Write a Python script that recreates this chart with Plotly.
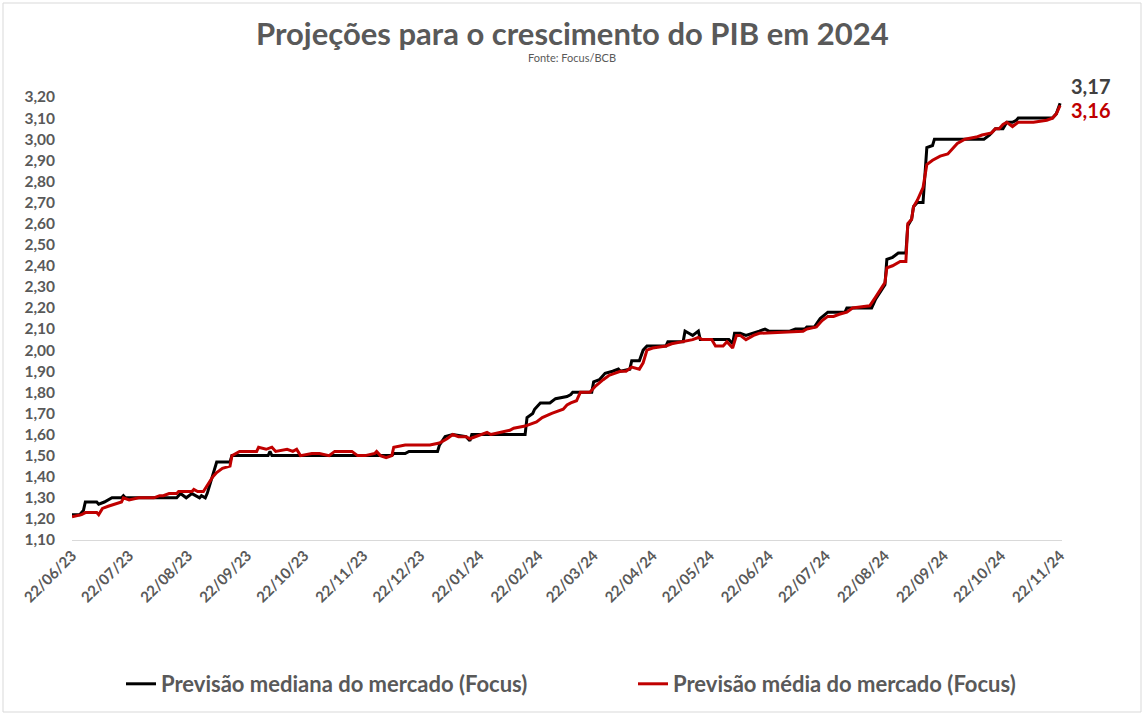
import plotly.graph_objects as go

# Previsão mediana (Focus)
median_dates = [
    "2023-06-22", "2023-06-26", "2023-06-28", "2023-06-29", "2023-07-05", "2023-07-06", "2023-07-09",
    "2023-07-13", "2023-07-18", "2023-07-19", "2023-07-20", "2023-08-16", "2023-08-18", "2023-08-21",
    "2023-08-24", "2023-08-28", "2023-08-29", "2023-08-31", "2023-09-01", "2023-09-03", "2023-09-05",
    "2023-09-06", "2023-09-13", "2023-09-14", "2023-10-03", "2023-10-04", "2023-10-05", "2023-12-07",
    "2023-12-08", "2023-12-14", "2023-12-16", "2023-12-31", "2024-01-01", "2024-01-04", "2024-01-08",
    "2024-01-15", "2024-01-17", "2024-01-18", "2024-02-15", "2024-02-16", "2024-02-19", "2024-02-20",
    "2024-02-23", "2024-02-28", "2024-03-02", "2024-03-08", "2024-03-10", "2024-03-11", "2024-03-21",
    "2024-03-22", "2024-03-25", "2024-03-28", "2024-04-01", "2024-04-04", "2024-04-05", "2024-04-10",
    "2024-04-11", "2024-04-15", "2024-04-17", "2024-04-19", "2024-04-29", "2024-04-30", "2024-05-08",
    "2024-05-09", "2024-05-11", "2024-05-13", "2024-05-16", "2024-05-17", "2024-06-01", "2024-06-03",
    "2024-06-04", "2024-06-07", "2024-06-10", "2024-06-14", "2024-06-17", "2024-06-20", "2024-06-22",
    "2024-07-03", "2024-07-06", "2024-07-11", "2024-07-12", "2024-07-16", "2024-07-19", "2024-07-23",
    "2024-08-01", "2024-08-02", "2024-08-15", "2024-08-17", "2024-08-22", "2024-08-23", "2024-08-26",
    "2024-08-29", "2024-09-02", "2024-09-03", "2024-09-05", "2024-09-06", "2024-09-08", "2024-09-11",
    "2024-09-12", "2024-09-13", "2024-09-16", "2024-09-17", "2024-10-13", "2024-10-16", "2024-10-19",
    "2024-10-23", "2024-10-25", "2024-10-28", "2024-10-30", "2024-10-31", "2024-11-18", "2024-11-20",
    "2024-11-22",
]
median_values = [
    1.22, 1.22, 1.24, 1.28, 1.28, 1.27, 1.28,
    1.30, 1.30, 1.31, 1.30, 1.30, 1.32, 1.30,
    1.32, 1.30, 1.31, 1.30, 1.32, 1.38, 1.45,
    1.47, 1.47, 1.50, 1.50, 1.52, 1.50, 1.50,
    1.51, 1.51, 1.52, 1.52, 1.55, 1.59, 1.60,
    1.59, 1.57, 1.60, 1.60, 1.68, 1.70, 1.72,
    1.75, 1.75, 1.77, 1.78, 1.79, 1.80, 1.80,
    1.85, 1.86, 1.89, 1.90, 1.91, 1.90, 1.91,
    1.95, 1.95, 2.00, 2.02, 2.02, 2.04, 2.04,
    2.09, 2.08, 2.07, 2.09, 2.05, 2.05, 2.03,
    2.08, 2.08, 2.07, 2.08, 2.09, 2.10, 2.09,
    2.09, 2.10, 2.10, 2.11, 2.11, 2.15, 2.18,
    2.18, 2.20, 2.20, 2.24, 2.31, 2.43, 2.44,
    2.46, 2.46, 2.59, 2.62, 2.68, 2.70, 2.70,
    2.86, 2.96, 2.97, 3.00, 3.00, 3.02, 3.05,
    3.05, 3.08, 3.08, 3.09, 3.10, 3.10, 3.12,
    3.17,
]

# Previsão média (Focus)
mean_dates = [
    "2023-06-22", "2023-06-27", "2023-06-29", "2023-07-05", "2023-07-06", "2023-07-08", "2023-07-11",
    "2023-07-14", "2023-07-18", "2023-07-19", "2023-07-22", "2023-07-27", "2023-08-04", "2023-08-07",
    "2023-08-09", "2023-08-12", "2023-08-16", "2023-08-17", "2023-08-24", "2023-08-25", "2023-08-27",
    "2023-08-30", "2023-09-01", "2023-09-04", "2023-09-06", "2023-09-09", "2023-09-13", "2023-09-14",
    "2023-09-18", "2023-09-27", "2023-09-28", "2023-10-02", "2023-10-05", "2023-10-07", "2023-10-13",
    "2023-10-16", "2023-10-18", "2023-10-20", "2023-10-26", "2023-10-30", "2023-11-04", "2023-11-07",
    "2023-11-16", "2023-11-19", "2023-11-23", "2023-11-28", "2023-11-29", "2023-12-01", "2023-12-04",
    "2023-12-07", "2023-12-08", "2023-12-14", "2023-12-27", "2024-01-01", "2024-01-05", "2024-01-08",
    "2024-01-11", "2024-01-15", "2024-01-17", "2024-01-20", "2024-01-26", "2024-01-28", "2024-02-02",
    "2024-02-07", "2024-02-09", "2024-02-15", "2024-02-21", "2024-02-24", "2024-02-29", "2024-03-06",
    "2024-03-08", "2024-03-10", "2024-03-13", "2024-03-15", "2024-03-20", "2024-03-23", "2024-03-27",
    "2024-03-30", "2024-04-05", "2024-04-08", "2024-04-11", "2024-04-15", "2024-04-17", "2024-04-19",
    "2024-04-22", "2024-04-29", "2024-05-02", "2024-05-08", "2024-05-13", "2024-05-16", "2024-05-18",
    "2024-05-23", "2024-05-25", "2024-05-29", "2024-05-31", "2024-06-03", "2024-06-05", "2024-06-07",
    "2024-06-10", "2024-06-14", "2024-06-17", "2024-07-10", "2024-07-12", "2024-07-17", "2024-07-20",
    "2024-07-23", "2024-07-26", "2024-07-29", "2024-08-02", "2024-08-05", "2024-08-14", "2024-08-17",
    "2024-08-20", "2024-08-22", "2024-08-23", "2024-08-26", "2024-08-30", "2024-09-02", "2024-09-03",
    "2024-09-05", "2024-09-06", "2024-09-08", "2024-09-11", "2024-09-13", "2024-09-16", "2024-09-20",
    "2024-09-24", "2024-09-26", "2024-09-29", "2024-10-03", "2024-10-09", "2024-10-12", "2024-10-17",
    "2024-10-19", "2024-10-21", "2024-10-23", "2024-10-25", "2024-10-28", "2024-10-31", "2024-11-08",
    "2024-11-15", "2024-11-18", "2024-11-20", "2024-11-22",
]
mean_values = [
    1.21, 1.22, 1.23, 1.23, 1.22, 1.25, 1.26,
    1.27, 1.28, 1.30, 1.29, 1.30, 1.30, 1.31,
    1.31, 1.32, 1.32, 1.33, 1.33, 1.34, 1.33,
    1.33, 1.36, 1.40, 1.42, 1.44, 1.45, 1.50,
    1.52, 1.52, 1.54, 1.53, 1.54, 1.52, 1.53,
    1.52, 1.53, 1.50, 1.51, 1.51, 1.50, 1.52,
    1.52, 1.50, 1.50, 1.51, 1.52, 1.50, 1.49,
    1.50, 1.54, 1.55, 1.55, 1.56, 1.58, 1.60,
    1.59, 1.59, 1.58, 1.59, 1.61, 1.60, 1.61,
    1.62, 1.63, 1.64, 1.66, 1.68, 1.70, 1.72,
    1.74, 1.75, 1.76, 1.80, 1.80, 1.83, 1.86,
    1.88, 1.90, 1.90, 1.92, 1.91, 1.94, 2.00,
    2.01, 2.02, 2.03, 2.04, 2.05, 2.06, 2.05,
    2.05, 2.02, 2.02, 2.04, 2.01, 2.07, 2.07,
    2.05, 2.07, 2.08, 2.09, 2.10, 2.11, 2.14,
    2.16, 2.16, 2.17, 2.18, 2.20, 2.21, 2.25,
    2.29, 2.32, 2.39, 2.40, 2.42, 2.42, 2.60,
    2.62, 2.68, 2.71, 2.77, 2.88, 2.90, 2.92,
    2.93, 2.95, 2.98, 3.00, 3.01, 3.02, 3.03,
    3.05, 3.05, 3.07, 3.08, 3.06, 3.08, 3.08,
    3.09, 3.10, 3.12, 3.16,
]

tick_dates = [
    "2023-06-22", "2023-07-22", "2023-08-22", "2023-09-22", "2023-10-22", "2023-11-22",
    "2023-12-22", "2024-01-22", "2024-02-22", "2024-03-22", "2024-04-22", "2024-05-22",
    "2024-06-22", "2024-07-22", "2024-08-22", "2024-09-22", "2024-10-22", "2024-11-22",
]
tick_labels = [d[8:10] + "/" + d[5:7] + "/" + d[2:4] for d in tick_dates]
y_ticks = [round(1.10 + 0.10 * i, 2) for i in range(22)]

FONT = "Lato"
GRAY = "#595959"
BLACK = "#000000"
RED = "#C00000"

W, H = 1145, 716
L, R, T, B = 72, 83, 97, 176
PW, PH = W - L - R, H - T - B


def px_x(px):
    return (px - L) / PW


def px_y(py):
    return (H - B - py) / PH


fig = go.Figure()
fig.add_trace(go.Scatter(
    x=median_dates, y=median_values, mode="lines",
    name="Previsão mediana do mercado (Focus)",
    line=dict(color=BLACK, width=3), legend="legend",
))
fig.add_trace(go.Scatter(
    x=mean_dates, y=mean_values, mode="lines",
    name="Previsão média do mercado (Focus)",
    line=dict(color=RED, width=3), legend="legend2",
))

fig.add_annotation(
    x=median_dates[-1], y=median_values[-1],
    text=f"{median_values[-1]:.2f}".replace(".", ","),
    showarrow=False, xanchor="left", yanchor="middle", xshift=9, yshift=17,
    font=dict(family=FONT, size=20, color="#404040", weight="bold"),
)
fig.add_annotation(
    x=mean_dates[-1], y=mean_values[-1],
    text=f"{mean_values[-1]:.2f}".replace(".", ","),
    showarrow=False, xanchor="left", yanchor="middle", xshift=9, yshift=-5,
    font=dict(family=FONT, size=20, color=RED, weight="bold"),
)

# title and subtitle
fig.add_annotation(
    xref="paper", yref="paper", x=px_x(572), y=px_y(33),
    text="Projeções para o crescimento do PIB em 2024", showarrow=False,
    xanchor="center", yanchor="middle",
    font=dict(family=FONT, size=31, color=GRAY, weight="bold"),
)
fig.add_annotation(
    xref="paper", yref="paper", x=px_x(572), y=px_y(58),
    text="Fonte: Focus/BCB", showarrow=False,
    xanchor="center", yanchor="middle",
    font=dict(family=FONT, size=11, color=GRAY),
)

# chart border
fig.add_shape(type="rect", xref="paper", yref="paper",
              x0=px_x(3), x1=px_x(1141), y0=px_y(712), y1=px_y(3),
              line=dict(color="#D9D9D9", width=1), layer="below")

legend_common = dict(
    orientation="h", yanchor="middle", y=px_y(684), xanchor="left",
    font=dict(family=FONT, size=22, color=GRAY, weight="bold"),
    itemwidth=30, bgcolor="rgba(0,0,0,0)",
)

fig.update_layout(
    width=W, height=H,
    margin=dict(l=L, r=R, t=T, b=B, autoexpand=False),
    paper_bgcolor="white", plot_bgcolor="white",
    separators=",.",
    showlegend=True,
    legend=dict(x=px_x(121), **legend_common),
    legend2=dict(x=px_x(633), **legend_common),
    xaxis=dict(
        type="date", range=["2023-06-22", "2024-11-23"],
        tickmode="array", tickvals=tick_dates, ticktext=tick_labels,
        tickangle=-45, showgrid=False, zeroline=False,
        showline=True, linecolor="#D9D9D9", linewidth=1, ticks="",
        tickfont=dict(family=FONT, size=15, color=GRAY, weight="bold"),
    ),
    yaxis=dict(
        range=[1.10, 3.20], tickmode="array", tickvals=y_ticks, tickformat=".2f",
        showgrid=False, zeroline=False, showline=False, ticks="",
        ticklabelstandoff=16,
        tickfont=dict(family=FONT, size=15.5, color=GRAY, weight="bold"),
    ),
)

fig.write_html("out.html", config={"displayModeBar": False},
               post_script="document.body.style.margin='0';")
